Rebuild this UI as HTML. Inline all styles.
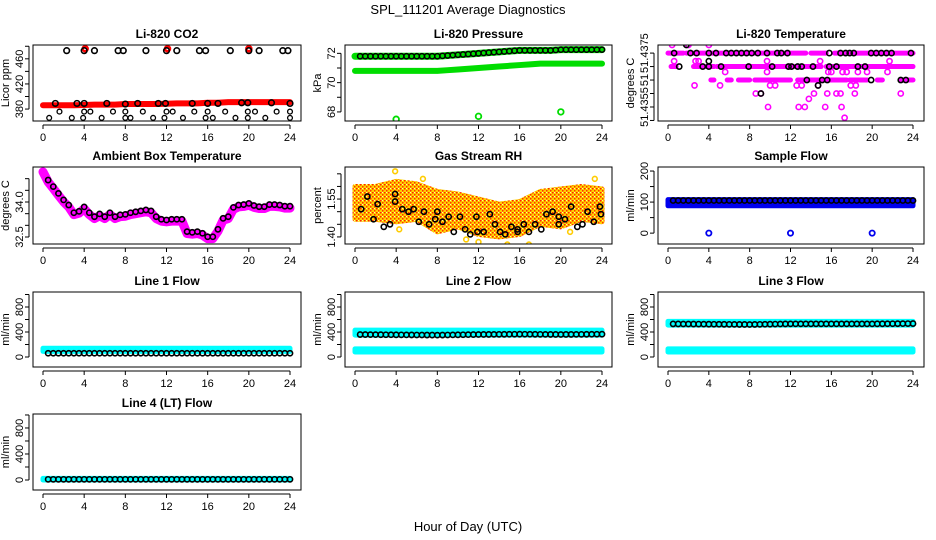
<!DOCTYPE html>
<html><head><meta charset="utf-8">
<style>
html,body{margin:0;padding:0;background:#fff;}
svg{display:block;font-family:"Liberation Sans",sans-serif;}
.t{font-weight:bold;font-size:12px;}
.ax{font-size:11px;}
</style></head>
<body>
<svg id="chart" width="936" height="540" viewBox="0 0 936 540" xmlns="http://www.w3.org/2000/svg">
<defs>
<pattern id="rhpat" width="4" height="4" patternUnits="userSpaceOnUse">
<rect width="4" height="4" fill="#ffd000"/><rect width="1.5" height="1.5" fill="#ff2000"/><rect x="2" y="2" width="1.5" height="1.5" fill="#ff3000"/><rect x="2" y="0" width="1" height="1" fill="#ffffa0"/>
</pattern>
</defs>
<text x="468" y="14" text-anchor="middle" font-size="13">SPL_111201  Average Diagnostics</text>
<text x="468" y="531" text-anchor="middle" font-size="13">Hour of Day (UTC)</text>
</svg>
<script>
// ---------- data ----------
const xTicks = [0,4,8,12,16,20,24];
const halfHours = [0.5,1,1.5,2,2.5,3,3.5,4,4.5,5,5.5,6,6.5,7,7.5,8,8.5,9,9.5,10,10.5,11,11.5,12,12.5,13,13.5,14,14.5,15,15.5,16,16.5,17,17.5,18,18.5,19,19.5,20,20.5,21,21.5,22,22.5,23,23.5,24];
const hours = [0,1,2,3,4,5,6,7,8,9,10,11,12,13,14,15,16,17,18,19,20,21,22,23,24];
const bandHours = [0,4,8,12,16,20,24];

// CO2
const co2Band = [386,386,386,386,386.5,387,387,387,388,388,388,388,388.5,389,389,389,390,390,391,391,391,391,391,391,391];
const co2TopX = [2.3,4,5,7.3,7.8,10,12,13,15.2,15.8,18.2,20,21,23.3,23.8];
const co2TopV = [473,473,473,473,473,473,473,473,473,473,473,473,473,473,473];
const co2MidX = [1.2,3.3,4,6.2,8,9.2,11.2,11.9,14.5,16,17,19.3,19.9,22.2,24];
const co2MidV = [389,389,389,389,388,389,389,389,389,389,389,390,390,390,389];
const co2LowX = [1.6,4.0,4.6,6.8,8,9.7,12,12.6,14.7,16,17.7,19.9,20.6,22.7,24,0.6,2.8,3.9,5.7,8,8.5,10.7,11.8,13.6,15.8,16.5,18.7,19.9,21.6,24];
const co2LowV = [376,376,376,376,376,376,376,376,376,376,376,376,376,376,376,366,366,366,366,366,366,366,366,366,366,366,366,366,366,366];
const co2RedX = [4.1,12.1,20];
const co2RedV = [476,476,476];

// Pressure
const pressUpper = [71.8,71.8,71.8,71.8,71.8,71.8,71.8,71.8,71.8,71.85,71.9,71.95,72.0,72.05,72.1,72.15,72.2,72.2,72.2,72.2,72.25,72.25,72.25,72.25,72.25];
const pressLower = [70.8,70.8,70.8,70.8,70.8,70.8,70.8,70.8,70.8,70.85,70.9,70.95,71.0,71.05,71.1,71.15,71.2,71.25,71.3,71.3,71.3,71.3,71.3,71.3,71.3];
const pressOutX = [4,12,20];
const pressOutV = [67.5,67.7,68.0];

// Li-820 temperature
const tempTicks = [51.4375,51.437,51.4365,51.436,51.4355,51.435];
const tempTickLabels = ["51.4375","","51","","51.4355",""];
const tempSegLevel = [51.4375,51.4375,51.4375,51.4375,51.437,51.437,51.437,51.437,51.4365,51.4365,51.4365,51.4365,51.4365,51.4365,51.4365,51.4365];
const tempSegStart = [0,1.8,14,16.3,0.3,2.5,4.8,15.5,4.2,5.8,6.9,8.5,12.7,17.8,20.5,22.8];
const tempSegEnd = [1.5,13.5,15.5,24,0.8,4.5,15,24,4.5,6.2,8,12,17.5,19.5,21,24];
const tempMagX = [0.4,2,4,0.6,2.7,3,9.7,14.9,21.7,5.6,9.7,15.7,16,17.1,17.5,18.6,19.5,21.5,2.6,5.1,10,10.5,12.6,13.1,14.7,17.9,18.4,8.6,9.1,14.3,15.6,16.5,16.9,18.3,22.8,13.8,9.8,12.8,13.4,15.4,17,17.3];
const tempMagV = [51.4378,51.4378,51.4378,51.4372,51.4372,51.4372,51.4372,51.4372,51.4372,51.4368,51.4368,51.4368,51.4368,51.4368,51.4368,51.4368,51.4368,51.4368,51.4363,51.4363,51.4363,51.4363,51.4363,51.4363,51.4363,51.4363,51.4363,51.436,51.436,51.436,51.436,51.436,51.436,51.436,51.436,51.4358,51.4355,51.4355,51.4355,51.4355,51.4355,51.4351];
const tempBlkX = [0.6,1.8,2.2,2.8,4,4.7,5.7,6.2,6.7,7.2,7.7,8.2,8.8,9.7,10.7,11.1,11.7,15.8,16.9,17.4,17.8,18.2,19.9,20.4,20.9,21.4,21.9,23.8,1.1,3.4,4.0,5.2,7.9,10.2,11.8,12.1,12.7,13.1,14.2,15.8,16.5,18.6,19.3,13.6,15.1,15.6,19.9,22.8,23.3,4.0,14.7,9.1];
const tempBlkV = [51.4375,51.4378,51.4375,51.4375,51.4375,51.4375,51.4375,51.4375,51.4375,51.4375,51.4375,51.4375,51.4375,51.4375,51.4375,51.4375,51.4375,51.4375,51.4375,51.4375,51.4375,51.4375,51.4375,51.4375,51.4375,51.4375,51.4375,51.4375,51.437,51.437,51.437,51.437,51.437,51.437,51.437,51.437,51.437,51.437,51.437,51.437,51.437,51.437,51.437,51.4365,51.4365,51.4365,51.4365,51.4365,51.4365,51.4372,51.4363,51.436];

// Ambient box temperature (0..24 every 0.5 h)
const ambientTimes = [0,0.5,1,1.5,2,2.5,3,3.5,4,4.5,5,5.5,6,6.5,7,7.5,8,8.5,9,9.5,10,10.5,11,11.5,12,12.5,13,13.5,14,14.5,15,15.5,16,16.5,17,17.5,18,18.5,19,19.5,20,20.5,21,21.5,22,22.5,23,23.5,24];
const ambientVals = [35.37,34.94,34.66,34.37,34.09,33.87,33.54,33.6,33.79,33.54,33.37,33.49,33.37,33.54,33.37,33.45,33.47,33.54,33.58,33.62,33.66,33.62,33.37,33.26,33.23,33.26,33.26,33.26,32.73,32.7,32.73,32.66,32.51,32.51,32.83,33.3,33.37,33.77,33.87,33.89,33.94,33.85,33.8,33.8,33.89,33.89,33.87,33.82,33.82];

// Gas stream RH
const rhBandHours = [0,2,4,6,8,10,12,14,16,18,20,22,24];
const rhLow = [1.47,1.47,1.46,1.47,1.42,1.44,1.41,1.40,1.41,1.45,1.44,1.47,1.46];
const rhHigh = [1.60,1.60,1.62,1.61,1.58,1.57,1.55,1.53,1.54,1.58,1.59,1.60,1.59];
const rhBlkX = [0.6,1.2,1.8,2.2,2.8,3.4,3.9,3.9,4.6,5.2,5.7,6.2,6.7,7.2,7.8,8,8.5,9.1,9.6,10.2,10.7,11.2,11.8,11.9,12.5,13.1,13.6,14.1,14.6,15.2,15.8,15.8,16.4,16.9,17.5,18.1,18.6,19.2,19.8,19.8,20.4,21,21.6,22.1,22.6,23.2,23.8,23.9];
const rhBlkV = [1.51,1.56,1.47,1.53,1.44,1.45,1.57,1.54,1.51,1.50,1.51,1.46,1.50,1.45,1.47,1.50,1.46,1.48,1.42,1.48,1.43,1.41,1.48,1.42,1.42,1.49,1.45,1.42,1.41,1.44,1.43,1.42,1.45,1.42,1.45,1.43,1.49,1.50,1.48,1.45,1.47,1.52,1.44,1.45,1.50,1.46,1.52,1.49];
const rhOutX = [3.9,4.3,6.6,10.8,12,14.8,16.9,20.9,23.3];
const rhOutV = [1.66,1.43,1.63,1.39,1.38,1.37,1.37,1.42,1.63];

// Sample flow
const sampleLow = [88,88,88,88,88,88,88];
const sampleHigh = [108,108,108,108,108,108,108];
const sampleBlk = 105;
const sampleOutX = [4,12,20];
const sampleOutV = [0,0,0];

// Line flows
const line1CyanLow = [90,90,90,90,90,90,90];
const line1CyanHigh = [140,140,140,140,140,140,140];
const line1Blk = [60,60,60,60,60,60,60];
const line2UpLow = [350,350,350,350,350,350,350];
const line2UpHigh = [430,430,430,430,430,430,430];
const line2DnLow = [80,80,80,80,80,80,80];
const line2DnHigh = [130,130,130,130,130,130,130];
const line2Blk = [360,355,350,360,365,360,365];
const line3UpLow = [510,510,510,510,510,510,510];
const line3UpHigh = [570,570,570,570,570,570,570];
const line3DnLow = [80,80,80,80,80,80,80];
const line3DnHigh = [130,130,130,130,130,130,130];
const line3Blk = [530,525,520,530,530,530,535];
const line4CyanLow = [0,0,0,0,0,0,0];
const line4CyanHigh = [25,25,25,25,25,25,25];
const line4Blk = [10,10,10,10,10,10,10];

// ---------- drawing ----------
const NS = "http://www.w3.org/2000/svg";
const svg = document.getElementById("chart");
const cols = [{l:33,r:301,x0:43,x24:290},{l:345,r:612,x0:355,x24:602},{l:658,r:924,x0:668,x24:913}];
const rows = [{t:45,b:121},{t:167,b:244},{t:292,b:367},{t:414,b:490}];

function mk(tag, attrs, parent){
  const e = document.createElementNS(NS, tag);
  for (const k in attrs) e.setAttribute(k, attrs[k]);
  (parent||svg).appendChild(e);
  return e;
}
function lerp(arrX, arrV, x){
  for (let i=0;i<arrX.length-1;i++){ if (x<=arrX[i+1]){ const f=(x-arrX[i])/(arrX[i+1]-arrX[i]); return arrV[i]+f*(arrV[i+1]-arrV[i]); } }
  return arrV[arrV.length-1];
}

function panel(name, c, r, title, ylab, vBot, vTop, ticks, labels, labelSize){
  const C = cols[c], R = rows[r];
  const g = mk("g", {});
  
  
  const xs = h => C.x0 + (C.x24 - C.x0) * h / 24;
  const ys = v => R.b - (v - vBot) / (vTop - vBot) * (R.b - R.t);
  const clipId = "clip-" + name;
  const cp = mk("clipPath", {id: clipId}, g);
  mk("rect", {x:C.l, y:R.t, width:C.r-C.l, height:R.b-R.t}, cp);
  const plot = mk("g", {"clip-path": "url(#" + clipId + ")"}, g);
  
  
  const box = mk("rect", {x:C.l, y:R.t, width:C.r-C.l, height:R.b-R.t, fill:"none", stroke:"#000", "stroke-width":1}, g);
  
  
  const tt = mk("text", {x:(C.l+C.r)/2, y:R.t-7, "text-anchor":"middle", class:"t"}, g);
  tt.textContent = title;
  
  
  const yl = mk("text", {transform:"translate(" + (C.l-24) + "," + ((R.t+R.b)/2) + ") rotate(-90)", "text-anchor":"middle", class:"ax"}, g);
  yl.textContent = ylab;
  
  
  const xa = mk("g", {}, g);
  
  
  mk("line", {x1:xs(0), x2:xs(24), y1:R.b+4, y2:R.b+4, stroke:"#000"}, xa);
  xTicks.forEach(h => {
    mk("line", {x1:xs(h), x2:xs(h), y1:R.b+4, y2:R.b+8, stroke:"#000"}, xa);
    const tl = mk("text", {x:xs(h), y:R.b+20, "text-anchor":"middle", class:"ax"}, xa);
    tl.textContent = String(h);
    
    
  });
  const ya = mk("g", {}, g);
  
  
  mk("line", {x1:C.l-4, x2:C.l-4, y1:ys(ticks[0]), y2:ys(ticks[ticks.length-1]), stroke:"#000"}, ya);
  ticks.forEach((v,i) => {
    mk("line", {x1:C.l-8, x2:C.l-4, y1:ys(v), y2:ys(v), stroke:"#000"}, ya);
    if (labels[i]) {
      const tl = mk("text", {transform:"translate(" + (C.l-10) + "," + ys(v) + ") rotate(-90)", "text-anchor":"middle", class:"ax"}, ya);
      if (labelSize) tl.setAttribute("font-size", labelSize);
      tl.textContent = labels[i];
      
      
    }
  });
  return {plot, xs, ys};
}

function circles(P, xArr, vArr, color, name, r, sw){
  vArr.forEach((v,i) => {
    const e = mk("circle", {cx:P.xs(xArr[i]), cy:P.ys(v), r:r||2.8, fill:"none", stroke:color, "stroke-width":sw||1.6}, P.plot);
    
    
  });
}
function band(P, xArr, lowArr, highArr, fill, name){
  let d = "";
  xArr.forEach((x,i) => { d += (i?"L":"M") + P.xs(x) + "," + P.ys(highArr[i]); });
  for (let i=xArr.length-1;i>=0;i--) d += "L" + P.xs(xArr[i]) + "," + P.ys(lowArr[i]);
  const e = mk("path", {d: d + "Z", fill: fill, stroke: fill, "stroke-width": 5, "stroke-linejoin":"round"}, P.plot);
  
  
}
function thickLine(P, xArr, vArr, color, w, name){
  const pts = xArr.map((x,i) => P.xs(x) + "," + P.ys(vArr[i])).join(" ");
  const e = mk("polyline", {points: pts, fill:"none", stroke:color, "stroke-width":w, "stroke-linecap":"round", "stroke-linejoin":"round"}, P.plot);
  
  
}

// CO2
let P = panel("co2", 0, 0, "Li-820 CO2", "Licor ppm", 361, 482, [380,400,420,440,460,480], ["380","","420","","460",""]);
thickLine(P, hours, co2Band, "#ff0000", 6, "co2-red-series");
circles(P, co2RedX, co2RedV, "#ff0000", "co2-red-point", 2.5, 2.5);
circles(P, co2TopX, co2TopV, "#000", "co2-black-point");
circles(P, co2MidX, co2MidV, "#000", "co2-black-point");
circles(P, co2LowX, co2LowV, "#000", "co2-black-point", 2.4, 1.3);

// Pressure
P = panel("pressure", 1, 0, "Li-820 Pressure", "kPa", 67.38, 72.57, [68,69,70,71,72], ["68","","70","","72"]);
thickLine(P, hours, pressLower, "#00dd00", 6, "pressure-lower-series");
thickLine(P, hours, pressUpper, "#00dd00", 7, "pressure-upper-series");
circles(P, pressOutX, pressOutV, "#00dd00", "pressure-outlier", 2.8, 1.8);
circles(P, halfHours, halfHours.map(h => lerp(hours, pressUpper, h)), "#000", "pressure-black-point", 2.6, 1.5);

// Temperature
P = panel("li820-temperature", 2, 0, "Li-820 Temperature", "degrees C", 51.43498, 51.4378, tempTicks, tempTickLabels, 10);
tempSegLevel.forEach((lv,i) => {
  const e = mk("line", {x1:P.xs(tempSegStart[i]), x2:P.xs(tempSegEnd[i]), y1:P.ys(lv), y2:P.ys(lv), stroke:"#ff00ff", "stroke-width":5, "stroke-linecap":"round"}, P.plot);
  
  
});
circles(P, tempMagX, tempMagV, "#ff00ff", "temperature-magenta-point", 2.6, 1.6);
circles(P, tempBlkX, tempBlkV, "#000", "temperature-black-point", 2.6, 1.6);

// Ambient
P = panel("ambient-temperature", 0, 1, "Ambient Box Temperature", "degrees C", 32.2, 35.5, [32.5,33,33.5,34,34.5,35], ["32.5","","","34.0","",""]);
thickLine(P, ambientTimes, ambientVals.map(v => v - 0.08), "#ff00ff", 9, "ambient-magenta-series");
circles(P, ambientTimes.slice(1), ambientVals.slice(1), "#000", "ambient-black-point", 2.6, 1.6);

// RH
P = panel("gas-stream-rh", 1, 1, "Gas Stream RH", "percent", 1.372, 1.677, [1.40,1.45,1.50,1.55,1.60,1.65], ["1.40","","","1.55","",""]);
band(P, rhBandHours, rhLow, rhHigh, "url(#rhpat)", "rh-band");
circles(P, rhOutX, rhOutV, "#ffcc00", "rh-outlier-point", 2.4, 1.6);
circles(P, rhBlkX, rhBlkV, "#000", "rh-black-point", 2.6, 1.6);

// Sample flow
P = panel("sample-flow", 2, 1, "Sample Flow", "ml/min", -35, 213, [0,50,100,150,200], ["0","","100","","200"]);
band(P, bandHours, sampleLow, sampleHigh, "#0000ee", "sample-flow-band");
circles(P, sampleOutX, sampleOutV, "#0000ee", "sample-flow-outlier", 2.6, 1.8);
circles(P, halfHours, halfHours.map(() => sampleBlk), "#000", "sample-flow-black-point", 2.6, 1.6);

// Line flows
const flowTicks = [0,200,400,600,800,1000];
const flowLabels = ["0","","400","","800",""];
P = panel("line1-flow", 0, 2, "Line 1 Flow", "ml/min", -160, 1040, flowTicks, flowLabels);
band(P, bandHours, line1CyanLow, line1CyanHigh, "#00ffff", "line1-cyan-band");
circles(P, halfHours, halfHours.map(h => lerp(bandHours, line1Blk, h)), "#000", "line1-black-point", 2.6, 1.6);

P = panel("line2-flow", 1, 2, "Line 2 Flow", "ml/min", -160, 1040, flowTicks, flowLabels);
band(P, bandHours, line2UpLow, line2UpHigh, "#00ffff", "line2-upper-band");
band(P, bandHours, line2DnLow, line2DnHigh, "#00ffff", "line2-lower-band");
circles(P, halfHours, halfHours.map(h => lerp(bandHours, line2Blk, h)), "#000", "line2-black-point", 2.6, 1.6);

P = panel("line3-flow", 2, 2, "Line 3 Flow", "ml/min", -160, 1040, flowTicks, flowLabels);
band(P, bandHours, line3UpLow, line3UpHigh, "#00ffff", "line3-upper-band");
band(P, bandHours, line3DnLow, line3DnHigh, "#00ffff", "line3-lower-band");
circles(P, halfHours, halfHours.map(h => lerp(bandHours, line3Blk, h)), "#000", "line3-black-point", 2.6, 1.6);

P = panel("line4-flow", 0, 3, "Line 4 (LT) Flow", "ml/min", -154, 1015, flowTicks, flowLabels);
band(P, bandHours, line4CyanLow, line4CyanHigh, "#00ffff", "line4-cyan-band");
circles(P, halfHours, halfHours.map(h => lerp(bandHours, line4Blk, h)), "#000", "line4-black-point", 2.6, 1.6);
</script>
</body></html>
